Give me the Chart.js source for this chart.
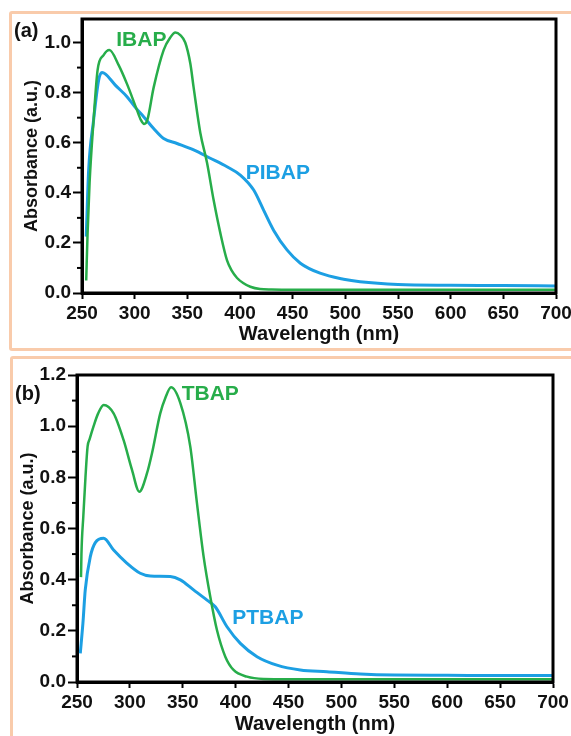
<!DOCTYPE html>
<html>
<head>
<meta charset="utf-8">
<script src="https://cdn.jsdelivr.net/npm/chart.js@4.4.0/dist/chart.umd.min.js"></script>
<style>
  body { margin: 0; background: #fff; width: 571px; height: 736px; overflow: hidden; position: relative; font-family: "Liberation Sans", Arial, sans-serif; }
  .box { position: absolute; border: 3px solid #f9cbab; border-radius: 3px; }
  #boxA { left: 9px; top: 11px; width: 600px; height: 334px; }
  #boxB { left: 10px; top: 356px; width: 600px; height: 500px; }
  .tag { position: absolute; font-weight: bold; font-size: 20px; line-height: 20px; color: #111; }
  #tagA { left: 14px; top: 20px; }
  #tagB { left: 15px; top: 383px; }
  canvas { position: absolute; left: 0; }
  #chartA { top: 0; }
  #chartB { top: 350px; }
</style>
</head>
<body>
<div class="box" id="boxA"></div>
<div class="box" id="boxB"></div>
<canvas id="chartA" width="571" height="350"></canvas>
<canvas id="chartB" width="571" height="386"></canvas>
<div class="tag" id="tagA">(a)</div>
<div class="tag" id="tagB">(b)</div>
<script>
// Panel (a): IBAP / PIBAP
const ibapNm = [254, 255.3, 257.2, 261, 264.8, 270.5, 276, 284.8, 292.7, 302.2, 306, 309, 312, 318, 327.5, 333.8, 338.6, 343.3, 348, 352.8, 356, 362.3, 368.7, 375, 381.3, 387.7, 392, 397.2, 403, 409.8, 419, 430, 450, 500, 550, 600, 650, 700];
const ibapAbs = [0.05, 0.24, 0.44, 0.69, 0.89, 0.95, 0.97, 0.91, 0.835, 0.73, 0.69, 0.675, 0.69, 0.82, 0.97, 1.02, 1.04, 1.03, 1.00, 0.917, 0.82, 0.64, 0.52, 0.37, 0.24, 0.13, 0.09, 0.06, 0.04, 0.025, 0.016, 0.014, 0.013, 0.013, 0.013, 0.013, 0.013, 0.013];
const pibapNm = [254, 256.3, 261, 265.8, 269, 272, 281.6, 292.7, 300.6, 308.5, 318, 327.5, 340.2, 356, 371.8, 387.7, 400.3, 413, 422.4, 432, 444.6, 457.3, 476, 498.4, 514, 550, 600, 650, 700];
const pibapAbs = [0.225, 0.49, 0.69, 0.85, 0.88, 0.875, 0.83, 0.784, 0.741, 0.704, 0.657, 0.617, 0.597, 0.571, 0.538, 0.504, 0.471, 0.411, 0.331, 0.25, 0.172, 0.119, 0.079, 0.055, 0.045, 0.034, 0.031, 0.03, 0.028];

// Panel (b): TBAP / PTBAP
const tbapNm = [253.8, 254.2, 256, 258, 260, 262, 265.7, 270, 275.2, 284.6, 294, 302, 308.9, 316.2, 320.9, 328.7, 333.5, 338.9, 347.7, 357.1, 363.4, 369.7, 376, 382.3, 390.2, 398, 410.7, 426.4, 450, 500, 550, 600, 650, 700];
const tbapAbs = [0.41, 0.5, 0.65, 0.8, 0.92, 0.95, 1.0, 1.05, 1.083, 1.05, 0.946, 0.829, 0.744, 0.816, 0.894, 1.05, 1.11, 1.152, 1.09, 0.92, 0.699, 0.49, 0.333, 0.203, 0.099, 0.047, 0.021, 0.012, 0.011, 0.011, 0.011, 0.011, 0.011, 0.011];
const ptbapNm = [253.1, 255.6, 257.8, 262.6, 267.3, 275.2, 284.6, 297.3, 309.8, 319.3, 338.2, 347.7, 360.2, 372.9, 380.7, 391.8, 404.4, 420.2, 439, 461.1, 486.3, 517.8, 550, 600, 650, 700];
const ptbapAbs = [0.112, 0.23, 0.36, 0.49, 0.545, 0.562, 0.516, 0.464, 0.425, 0.414, 0.412, 0.399, 0.36, 0.32, 0.294, 0.216, 0.151, 0.099, 0.066, 0.047, 0.04, 0.031, 0.027, 0.026, 0.025, 0.025];

// ticks
const xTicks = [250, 300, 350, 400, 450, 500, 550, 600, 650, 700];
const yTicksA = [0, 0.2, 0.4, 0.6, 0.8, 1.0];
const yMinorA = [0.1, 0.3, 0.5, 0.7, 0.9];
const yTicksB = [0, 0.2, 0.4, 0.6, 0.8, 1.0, 1.2];
const yMinorB = [0.1, 0.3, 0.5, 0.7, 0.9, 1.1];

// curve names, placed at (nm, absorbance)
const namesA = ['IBAP', 'PIBAP'];
const namesAPos = [[306.3, 1.01], [435.9, 0.477]];
const namesB = ['TBAP', 'PTBAP'];
const namesBPos = [[376, 1.126], [430.4, 0.25]];

const GREEN = '#27ad4a';
const BLUE = '#1c9fe3';
const FONT = 'Liberation Sans';

Chart.defaults.font.family = FONT;
Chart.defaults.color = '#111';

function toPoints(xs, ys) {
    return xs.map((x, i) => ({x: x, y: ys[i]}));
}

// frame, minor ticks and curve names
const panelPlugin = {
    id: 'panelExtras',
    afterDraw(chart, args, opts) {
        const ctx = chart.ctx;
        const a = chart.chartArea;
        const ys = chart.scales.y;
        const xs = chart.scales.x;
        ctx.save();
        ctx.strokeStyle = '#000';
        ctx.lineWidth = 3;
        ctx.strokeRect(a.left, a.top, a.right - a.left, a.bottom - a.top);

        ctx.lineWidth = 2;
        opts.minor.forEach(v => {
            const py = ys.getPixelForValue(v);
            ctx.beginPath();
            ctx.moveTo(a.left - 5, py);
            ctx.lineTo(a.left, py);
            ctx.stroke();
        });

        ctx.font = 'bold 21px ' + FONT;
        ctx.textAlign = 'center';
        ctx.textBaseline = 'middle';
        opts.names.forEach((n, i) => {
            ctx.fillStyle = opts.colors[i];
            ctx.fillText(n, xs.getPixelForValue(opts.pos[i][0]), ys.getPixelForValue(opts.pos[i][1]));
        });
        ctx.restore();
    }
};

function makeChart(id, green, blue, yMax, yTicks, yMinor, names, pos, geo) {
    return new Chart(document.getElementById(id), {
        type: 'line',
        data: {
            datasets: [
                {data: green, borderColor: GREEN, borderWidth: 2.5},
                {data: blue, borderColor: BLUE, borderWidth: 3}
            ]
        },
        options: {
            responsive: false,
            animation: false,
            devicePixelRatio: 1,
            parsing: false,
            elements: {
                point: {radius: 0},
                line: {cubicInterpolationMode: 'monotone', fill: false}
            },
            layout: {padding: {top: geo.top, right: geo.right, left: 0, bottom: 0}},
            plugins: {
                legend: {display: false},
                tooltip: {enabled: false},
                panelExtras: {minor: yMinor, names: names, pos: pos, colors: [GREEN, BLUE]}
            },
            scales: {
                x: {
                    type: 'linear',
                    min: 250,
                    max: 700,
                    afterBuildTicks: s => { s.ticks = xTicks.map(v => ({value: v})); },
                    // last label runs off the edge as in the original, so no extra right padding
                    afterFit: s => { s.height = geo.xh; s.paddingRight = 0; s.paddingLeft = 0; },
                    grid: {drawOnChartArea: false, tickLength: 6, tickWidth: 2, tickColor: '#000'},
                    border: {color: '#000', width: 3},
                    ticks: {font: {size: 19, weight: 'bold'}, padding: 3, maxRotation: 0, autoSkip: false, color: '#111'},
                    title: {display: true, text: 'Wavelength (nm)', font: {size: 20, weight: 'bold', lineHeight: 1}, padding: {top: 0, bottom: geo.xtPad}, color: '#111'}
                },
                y: {
                    min: 0,
                    max: yMax,
                    afterBuildTicks: s => { s.ticks = yTicks.map(v => ({value: v})); },
                    afterFit: s => { s.width = geo.yw; },
                    grid: {drawOnChartArea: false, tickLength: 9, tickWidth: 2, tickColor: '#000'},
                    border: {color: '#000', width: 3},
                    ticks: {font: {size: 19, weight: 'bold'}, padding: 2, color: '#111', callback: v => v.toFixed(1)},
                    title: {display: true, text: 'Absorbance (a.u.)', font: {size: 18, weight: 'bold', lineHeight: 1}, padding: {top: geo.ytPad, bottom: 0}, color: '#111'}
                }
            }
        },
        plugins: [panelPlugin]
    });
}

makeChart('chartA', toPoints(ibapNm, ibapAbs), toPoints(pibapNm, pibapAbs), 1.094, yTicksA, yMinorA, namesA, namesAPos,
    {top: 19, right: 15, xh: 57, yw: 82, xtPad: 6, ytPad: 23});
makeChart('chartB', toPoints(tbapNm, tbapAbs), toPoints(ptbapNm, ptbapAbs), 1.2, yTicksB, yMinorB, namesB, namesBPos,
    {top: 25, right: 18, xh: 54, yw: 77, xtPad: 2, ytPad: 19});
</script>
</body>
</html>
